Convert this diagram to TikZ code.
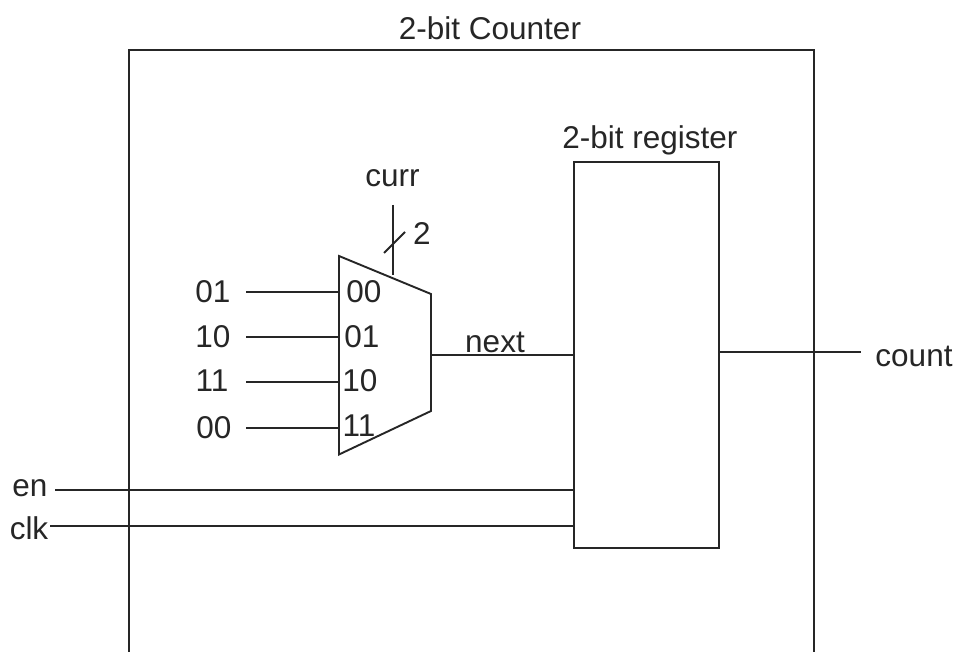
\documentclass[tikz,border=0pt]{standalone}
\usepackage{fontspec}
\setmainfont{Liberation Sans}
\tikzset{x=1pt,y=-1pt,wire/.style={draw=black!85,line width=1.9pt},
lab/.style={inner sep=0pt,font=\fontsize{31.5}{34}\selectfont,text=black!85}}
\begin{document}
\begin{tikzpicture}
\useasboundingbox (0,0) rectangle (959,652);
\fill[white] (0,0) rectangle (959,652);
\coordinate (bl) at (129,652); \coordinate (br) at (814,652);
\draw[wire] (bl) -- (129,50) -- (814,50) -- (br);
\node[lab] (title) at (490,28) {2-bit Counter};
\node[minimum width=145pt,minimum height=386pt,inner sep=0pt,outer sep=0pt,anchor=center] (reg) at (646.5,355) {};
\draw[wire] (reg.north west) rectangle (reg.south east);
\node[lab] (regl) at (650,140) {2-bit register};
\coordinate (m1) at (339,256); \coordinate (m2) at (431,294); \coordinate (m3) at (431,411); \coordinate (m4) at (339,454.5);
\draw[wire] (m1) -- (m2) -- (m3) -- (m4) -- cycle;
\node[lab] (curr) at (392.5,178) {curr};
\coordinate (c1) at (393,205); \coordinate (c2) at (393,275);
\draw[wire] (c1) -- (c2);
\coordinate (s1) at (384,253); \coordinate (s2) at (405,232);
\draw[wire] (s1) -- (s2);
\node[lab] (two) at (422,234) {2};
\node[lab] (i1) at (213,292) {01};
\node[lab] (i2) at (213,337) {10};
\node[lab] (i3) at (212,381) {11};
\node[lab] (i4) at (214,428) {00};
\coordinate (a1) at (246,292); \coordinate (b1) at (339,292);
\coordinate (a2) at (246,337); \coordinate (b2) at (339,337);
\coordinate (a3) at (246,382); \coordinate (b3) at (339,382);
\coordinate (a4) at (246,428); \coordinate (b4) at (339,428);
\draw[wire] (a1)--(b1) (a2)--(b2) (a3)--(b3) (a4)--(b4);
\node[lab] (s00) at (364,292) {00};
\node[lab] (s01) at (362,337) {01};
\node[lab] (s10) at (360,381) {10};
\node[lab] (s11) at (359,426) {11};
\coordinate (mo) at (431,355);
\draw[wire] (mo) -- (mo -| reg.west);
\node[lab] (next) at (495,342) {next};
\coordinate (ce) at (861,352);
\draw[wire] (reg.east |- ce) -- (ce);
\node[lab] (count) at (914,356) {count};
\node[lab] (en) at (30,488) {en};
\node[lab] (clk) at (29,528) {clk};
\coordinate (e1) at (55,490);
\coordinate (k1) at (50,526);
\draw[wire] (e1)--(e1 -| reg.west) (k1)--(k1 -| reg.west);
\end{tikzpicture}
\end{document}
